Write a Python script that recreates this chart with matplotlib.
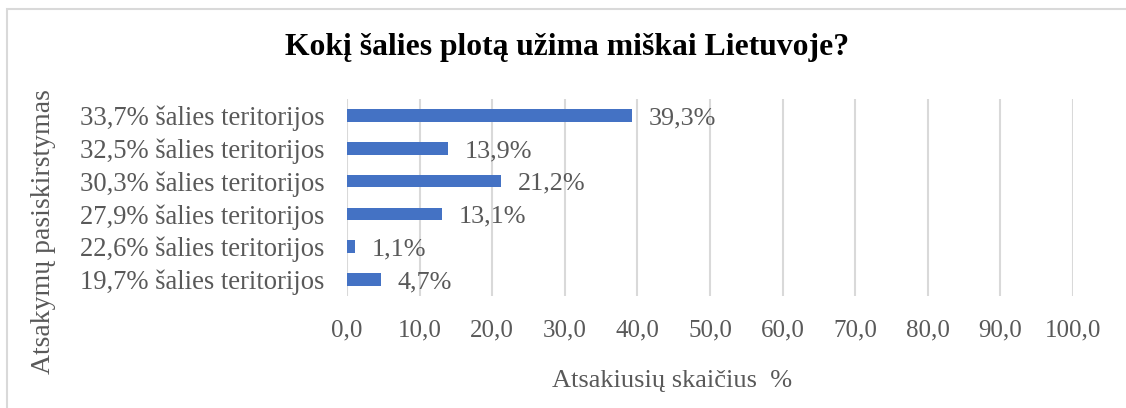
import numpy as np
import matplotlib.pyplot as plt
from matplotlib.patches import Rectangle

plt.rcParams['font.family'] = ['Liberation Serif', 'DejaVu Serif']

categories = ["33,7% šalies teritorijos", "32,5% šalies teritorijos",
              "30,3% šalies teritorijos", "27,9% šalies teritorijos",
              "22,6% šalies teritorijos", "19,7% šalies teritorijos"]
values = [39.3, 13.9, 21.2, 13.1, 1.1, 4.7]
xticks = [0, 10, 20, 30, 40, 50, 60, 70, 80, 90, 100]

title = "Kokį šalies plotą užima miškai Lietuvoje?"
xlabel = "Atsakiusių skaičius  %"
ylabel = "Atsakymų pasiskirstymas"

gray = "#595959"
blue = "#4472C4"

fig = plt.figure(figsize=(11.26, 4.08), dpi=100)
ax = fig.add_axes([347/1126, 1 - 296/408, (1073 - 347)/1126, (296 - 99)/408])

y = np.arange(len(categories))
ax.barh(y, values, height=0.39, color=blue, zorder=3)
for yi, v in zip(y, values):
    lbl = f"{v:.1f}".replace(".", ",") + "%"
    ax.annotate(lbl, (v, yi), xytext=(12, -2), textcoords="offset points",
                va="center", ha="left", fontsize=18.8, color=gray)

ax.set_ylim(len(categories) - 0.5, -0.5)
ax.set_xlim(0, 100)
ax.set_yticks(y)
ax.set_yticklabels(categories, fontsize=19.2, color=gray)
ax.set_xticks(xticks)
ax.set_xticklabels([f"{t:.1f}".replace(".", ",") for t in xticks], fontsize=18, color=gray)
ax.tick_params(axis='both', length=0)
ax.tick_params(axis='y', pad=16)
ax.tick_params(axis='x', pad=17)
ax.grid(axis='x', color="#D9D9D9", linewidth=1.5, zorder=0)
for s in ax.spines.values():
    s.set_visible(False)

fig.text(567/1126, 1 - 47/408, title, ha="center", va="center",
         fontsize=22.8, fontweight="bold", color="black")
fig.text(672/1126, 1 - 381/408, xlabel, ha="center", va="center",
         fontsize=19, color=gray)
fig.text(44/1126, 1 - 232/408, ylabel, ha="center", va="center",
         rotation=90, fontsize=20, color=gray)

fig.patches.append(Rectangle((7/1126, -0.05), 1.2, 1 - 9/408 + 0.05,
                             transform=fig.transFigure, fill=False,
                             edgecolor="#D9D9D9", linewidth=1.5))

fig.savefig("out.png", dpi=100)
